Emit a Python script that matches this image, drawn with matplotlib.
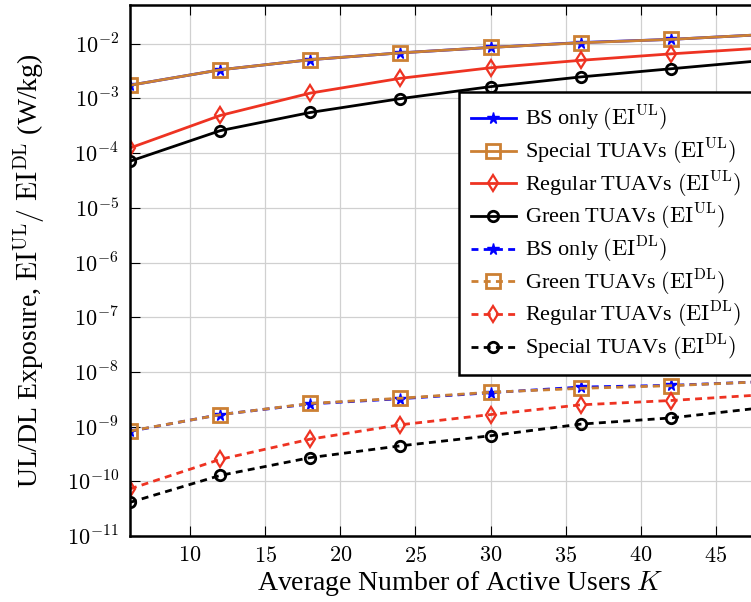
import math
import matplotlib
matplotlib.use('Agg')
import matplotlib.pyplot as plt
from matplotlib.ticker import FuncFormatter

plt.rcParams['font.family'] = ['Liberation Serif', 'DejaVu Serif']
plt.rcParams['mathtext.fontset'] = 'cm'

# number of active users
K = [6, 12, 18, 24, 30, 36, 42, 48]

# uplink exposure (W/kg)
bs_ul = [1.74e-3, 3.33e-3, 5.1e-3, 6.8e-3, 8.55e-3, 1.05e-2, 1.2e-2, 1.46e-2]
special_ul = [1.74e-3, 3.33e-3, 5.1e-3, 6.8e-3, 8.55e-3, 1.04e-2, 1.2e-2, 1.46e-2]
regular_ul = [1.24e-4, 4.87e-4, 1.25e-3, 2.33e-3, 3.63e-3, 4.97e-3, 6.52e-3, 8.3e-3]
green_ul = [7.1e-5, 2.57e-4, 5.53e-4, 9.9e-4, 1.64e-3, 2.47e-3, 3.48e-3, 4.9e-3]

# downlink exposure (W/kg)
bs_dl = [8.2e-10, 1.66e-9, 2.6e-9, 3.23e-9, 4.17e-9, 5.28e-9, 5.68e-9, 6.6e-9]
green_dl = [8.3e-10, 1.65e-9, 2.65e-9, 3.3e-9, 4.25e-9, 5.0e-9, 5.6e-9, 6.6e-9]
regular_dl = [7.26e-11, 2.52e-10, 5.9e-10, 1.08e-9, 1.66e-9, 2.5e-9, 3.0e-9, 3.8e-9]
special_dl = [4.12e-11, 1.28e-10, 2.71e-10, 4.45e-10, 6.8e-10, 1.11e-9, 1.44e-9, 2.2e-9]

blue = '#0000ff'
brown = '#cc8033'
red = '#ee3322'
black = '#000000'

UL = r'$(\mathrm{EI}^{\mathrm{UL}})$'
DL = r'$(\mathrm{EI}^{\mathrm{DL}})$'

fig = plt.figure(figsize=(7.51, 6.02), dpi=100)
ax = fig.add_axes([130 / 751, 1 - 536 / 602, (791 - 130) / 751, (536 - 5) / 602])

lw = 2.0
dash = (2.5, 1.9)
star = dict(marker='*', ms=8.5, mec=blue, mfc=blue)
square = dict(marker='s', ms=10, mec=brown, mfc='none', mew=2)
diamond = dict(marker='d', ms=8, mec=red, mfc='none', mew=1.6)
circle = dict(marker='o', ms=7.5, mec=black, mfc='none', mew=2)

ax.plot(K, bs_ul, '-', color=blue, lw=lw, label='BS only ' + UL, **star)
ax.plot(K, special_ul, '-', color=brown, lw=lw, label='Special TUAVs ' + UL, **square)
ax.plot(K, regular_ul, '-', color=red, lw=lw, label='Regular TUAVs ' + UL, **diamond)
ax.plot(K, green_ul, '-', color=black, lw=lw, label='Green TUAVs ' + UL, **circle)

ax.plot(K, bs_dl, '--', dashes=dash, color=blue, lw=lw, label='BS only ' + DL, **star)
ax.plot(K, green_dl, '--', dashes=dash, color=brown, lw=lw, label='Green TUAVs ' + DL, **square)
ax.plot(K, regular_dl, '--', dashes=dash, color=red, lw=lw, label='Regular TUAVs ' + DL, **diamond)
ax.plot(K, special_dl, '--', dashes=dash, color=black, lw=lw, label='Special TUAVs ' + DL, **circle)

ax.set_yscale('log')
ax.set_xlim(6, 50)
ax.set_ylim(1e-11, 5.1e-2)
ax.set_xticks([10, 15, 20, 25, 30, 35, 40, 45])
ax.set_yticks([10.0 ** e for e in range(-11, -1)])
ax.xaxis.set_major_formatter(FuncFormatter(lambda v, p: r'$%d$' % v))
ax.yaxis.set_major_formatter(FuncFormatter(lambda v, p: r'$10^{%d}$' % round(math.log10(v))))
ax.grid(True, which='major', color='#d0d0d0', lw=0.9)
ax.tick_params(which='both', direction='in', top=True, right=True, labelsize=16)
ax.tick_params(which='major', length=7, pad=8)
ax.tick_params(which='minor', length=4)
for s in ax.spines.values():
    s.set_linewidth(1.8)

ax.set_xlabel(r'Average Number of Active Users $K$', fontsize=20, labelpad=1)
ax.set_ylabel(r'UL/DL Exposure, $\mathrm{EI}^{\mathrm{UL}}/\ \mathrm{EI}^{\mathrm{DL}}$ (W/kg)',
              fontsize=20, labelpad=14)

leg = ax.legend(loc='upper left', bbox_to_anchor=(459 / 751, 1 - 92 / 602),
                bbox_transform=fig.transFigure, fontsize=16, fancybox=False,
                framealpha=1, edgecolor='black', handlelength=2.0, borderpad=0.55,
                labelspacing=0.12, handletextpad=0.4, borderaxespad=0)
leg.get_frame().set_linewidth(1.8)

fig.savefig('out.png', dpi=100)
